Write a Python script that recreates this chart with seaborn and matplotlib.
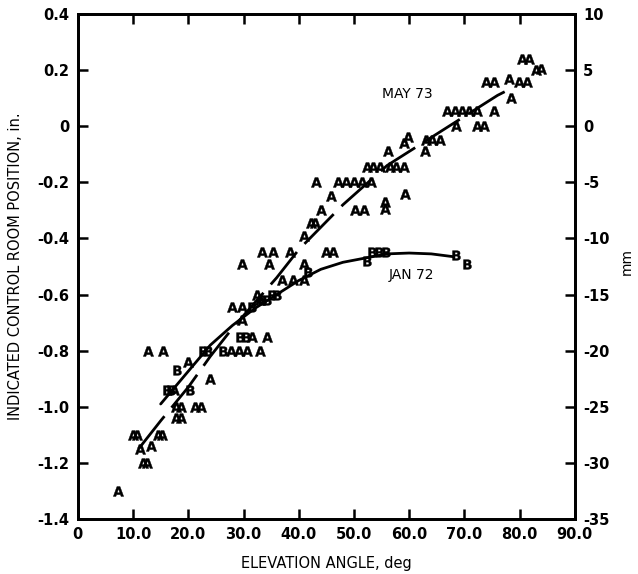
import numpy as np
import pandas as pd
import matplotlib
matplotlib.use("Agg")
import matplotlib.pyplot as plt
import seaborn as sns

# Elevation angle (deg) and indicated position (in.) for the A-series readings (MAY 73)
a_angle = [7.2, 11.8, 12.6, 11.2, 13.2, 10.0, 10.8, 14.5, 15.3, 17.8, 18.6,
           17.8, 18.6, 21.3, 22.3, 12.7, 15.4, 19.9, 23.9, 17.5,
           27.8, 29.2, 30.6, 32.9, 31.6, 34.2, 29.7, 28.0, 29.7, 32.4, 33.0,
           36.9, 38.9, 40.9, 40.9, 29.8, 34.7, 33.3, 35.3, 38.5, 45.0, 46.2,
           41.0, 42.2, 43.0, 44.1, 45.9, 43.2, 47.2, 48.6, 50.0, 51.5, 53.1,
           50.2, 51.8, 55.7, 55.7, 59.3, 52.3, 53.5, 54.7, 56.5, 57.7, 59.0,
           56.1, 59.0, 59.7, 63.1, 64.2, 65.5, 62.9, 68.4, 72.2, 73.6,
           66.8, 68.3, 69.6, 70.9, 72.3, 75.4, 78.5, 74.0, 75.4, 78.1, 79.9, 81.4,
           80.5, 81.7, 83.0, 83.8]
a_pos = [-1.30, -1.20, -1.20, -1.15, -1.14, -1.10, -1.10, -1.10, -1.10, -1.04, -1.04,
         -1.00, -1.00, -1.00, -1.00, -0.80, -0.80, -0.84, -0.90, -0.94,
         -0.80, -0.80, -0.80, -0.80, -0.75, -0.75, -0.69, -0.645, -0.645, -0.60, -0.62,
         -0.548, -0.548, -0.548, -0.49, -0.49, -0.49, -0.45, -0.45, -0.45, -0.45, -0.45,
         -0.39, -0.345, -0.345, -0.30, -0.25, -0.20, -0.20, -0.20, -0.20, -0.20, -0.20,
         -0.30, -0.30, -0.27, -0.295, -0.24, -0.146, -0.146, -0.146, -0.146, -0.146, -0.146,
         -0.09, -0.06, -0.04, -0.05, -0.05, -0.05, -0.09, 0.00, 0.00, 0.00,
         0.053, 0.053, 0.053, 0.053, 0.053, 0.053, 0.10, 0.157, 0.157, 0.167, 0.157, 0.157,
         0.238, 0.238, 0.20, 0.205]

# B-series readings (JAN 72)
b_angle = [16.1, 16.8, 20.3, 17.9, 22.6, 23.6, 26.2, 29.3, 30.4, 31.5,
           33.4, 34.2, 35.2, 36.0, 41.6, 52.3, 53.3, 54.6, 55.8, 68.5, 70.5]
b_pos = [-0.94, -0.94, -0.94, -0.87, -0.80, -0.80, -0.80, -0.75, -0.75, -0.645,
         -0.62, -0.62, -0.60, -0.60, -0.52, -0.48, -0.45, -0.45, -0.45, -0.46, -0.49]

# Fitted trend curves
may_angle = [11, 15, 20, 24, 28, 32, 36, 40, 44, 48, 52, 56, 60, 64, 68, 72, 76, 79]
may_pos = [-1.15, -1.05, -0.93, -0.82, -0.72, -0.63, -0.54, -0.44, -0.36, -0.28,
           -0.21, -0.14, -0.09, -0.04, 0.01, 0.06, 0.11, 0.14]
jan_angle = [15, 18, 21, 24, 28, 32, 36, 40, 44, 48, 52, 56, 60, 64, 68]
jan_pos = [-0.99, -0.92, -0.85, -0.78, -0.71, -0.65, -0.60, -0.55, -0.51, -0.485,
           -0.47, -0.455, -0.452, -0.455, -0.465]

x_ticks = [0, 10, 20, 30, 40, 50, 60, 70, 80, 90]
x_labels = ["0", "10.0", "20.0", "30.0", "40.0", "50.0", "60.0", "70.0", "80.0", "90.0"]
y_ticks = [0.4, 0.2, 0, -0.2, -0.4, -0.6, -0.8, -1.0, -1.2, -1.4]
y_labels = ["0.4", "0.2", "0", "-0.2", "-0.4", "-0.6", "-0.8", "-1.0", "-1.2", "-1.4"]
mm_ticks = [10, 5, 0, -5, -10, -15, -20, -25, -30, -35]

sns.set_theme(style="ticks")
plt.rcParams["font.family"] = ["DejaVu Sans"]
plt.rcParams["mathtext.fontset"] = "dejavusans"
plt.rcParams["text.color"] = "black"
plt.rcParams["axes.labelcolor"] = "black"
plt.rcParams["xtick.color"] = "black"
plt.rcParams["ytick.color"] = "black"
plt.rcParams["axes.edgecolor"] = "black"

fig = plt.figure(figsize=(6.38, 5.74), dpi=100)
ax = fig.add_axes([0.122, 0.0958, 0.779, 0.8798])

sns.lineplot(x=may_angle, y=may_pos, ax=ax, color="black", lw=2.0,
             linestyle=(0, (15, 4)), sort=False, estimator=None)
sns.lineplot(x=jan_angle, y=jan_pos, ax=ax, color="black", lw=2.0,
             sort=False, estimator=None)

a_df = pd.DataFrame({"angle": a_angle, "pos": a_pos})
b_df = pd.DataFrame({"angle": b_angle, "pos": b_pos})
sns.scatterplot(data=a_df, x="angle", y="pos", ax=ax, marker=r"$\mathbf{A}$",
                s=55, color="black", linewidth=0.3, edgecolor="black")
sns.scatterplot(data=b_df, x="angle", y="pos", ax=ax, marker=r"$\mathbf{B}$",
                s=48, color="black", linewidth=0.3, edgecolor="black")

ax.text(59.7, 0.114, "MAY 73", ha="center", va="center", fontsize=10)
ax.text(60.4, -0.53, "JAN 72", ha="center", va="center", fontsize=10)

ax.set_xlim(0, 90)
ax.set_ylim(-1.4, 0.4)
ax.set_xticks(x_ticks)
ax.set_xticklabels(x_labels, fontsize=10.5, fontweight="bold")
ax.set_yticks(y_ticks)
ax.set_yticklabels(y_labels, fontsize=10.5, fontweight="bold")
ax.tick_params(direction="in", length=7, width=1.8, top=True, color="black", pad=6)
ax.set_xlabel("ELEVATION ANGLE, deg", fontsize=10.5, labelpad=10)
ax.set_ylabel("INDICATED CONTROL ROOM POSITION, in.", fontsize=10.5, labelpad=10)
for sp in ax.spines.values():
    sp.set_visible(True)
    sp.set_linewidth(2.0)
    sp.set_color("black")

# Millimetre scale on the right (25 mm per inch)
ax2 = ax.twinx()
ax2.set_ylim(-1.4 * 25, 0.4 * 25)
ax2.set_yticks(mm_ticks)
ax2.set_yticklabels([str(t) for t in mm_ticks], fontsize=10.5, fontweight="bold")
ax2.tick_params(direction="in", length=7, width=1.8, pad=6, color="black")
for sp in ax2.spines.values():
    sp.set_linewidth(2.0)
    sp.set_color("black")
fig.text(0.982, 0.545, "mm", rotation=90, ha="center", va="center", fontsize=10)

fig.savefig("out.png", dpi=100, facecolor="white")
